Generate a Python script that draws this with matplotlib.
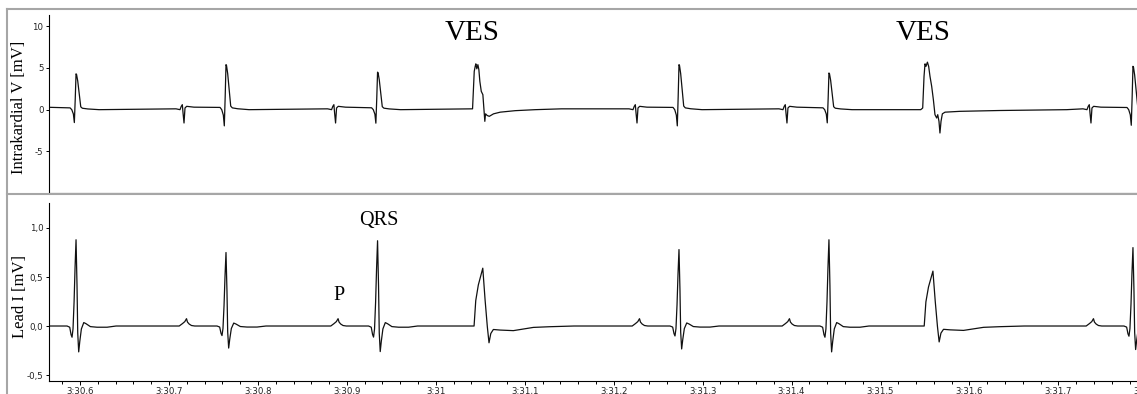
# -*- coding: utf-8 -*-
"""
Intracardiac channel and surface lead I around two ventricular
extrasystoles (VES), time axis in m:ss,d
"""

import numpy as np
import matplotlib.pyplot as plt
from matplotlib.ticker import MultipleLocator, FuncFormatter
from matplotlib.lines import Line2D

# time window [s]
t_start = 210.5651
t_end = 211.8142

# sinus beats: R-peak times [s], R amplitude intracardial / lead I [mV]
sinus_t = [210.5955, 210.7641, 210.9345, 211.2734, 211.4420, 211.7838]
sinus_r_ik = [4.3, 5.4, 4.5, 5.4, 4.4, 5.2]
sinus_r_lead1 = [0.88, 0.75, 0.87, 0.78, 0.88, 0.80]

# extrasystoles: onset [s], lead I peak [mV]
ves_t = [211.0413, 211.5474]
ves_r_lead1 = [0.59, 0.56]

# intracardial: atrial deflection, relative to R [ms] / [mV]
atr_ik_ms = [-56.2, -51.7, -50.3, -49.1, -48.3, -47.2, -46.1, -44.2, -36.0]
atr_ik_mv = [0.1, 0.0, 0.4, 0.6, -0.4, -1.6, 0.2, 0.4, 0.3]

# intracardial: ventricular spike, relative to R [ms] / fraction of R
qrs_ik_ms = [-6.7, -4.8, -3.0, -1.9, -0.9, 0.0, 0.6, 1.9, 3.7, 5.3, 7.1, 13.2, 25.9]
qrs_ik_rel = [0.05, 0.0, -0.12, -0.36, 0.3, 1.0, 0.98, 0.8, 0.42, 0.08, 0.04, 0.02, 0.0]

# intracardial: the two VES complexes, relative to onset [ms] / [mV]
ves1_ik_ms = [-2.6, 0.0, 1.1, 1.9, 3.0, 3.7, 4.8, 6.0, 7.1, 8.2, 9.8, 11.6, 12.7,
              13.8, 14.6, 16.5, 18.8, 23.6, 31.1, 48.0, 70.5, 100.1]
ves1_ik_mv = [0.1, 0.1, 2.6, 4.6, 5.2, 5.5, 4.9, 5.4, 4.8, 3.4, 2.2, 1.8, 0.2,
              -1.4, -0.5, -0.7, -0.8, -0.5, -0.3, -0.12, 0.0, 0.1]
ves2_ik_ms = [-2.2, 0.0, 1.5, 2.6, 3.7, 5.3, 6.7, 8.2, 10.1, 12.0, 13.8, 15.7,
              16.9, 18.3, 19.4, 20.6, 22.1, 25.1, 41.9, 86.9, 161.9]
ves2_ik_mv = [0.0, 0.2, 4.0, 5.5, 5.2, 5.7, 5.2, 4.0, 2.8, 1.2, -0.6, -1.0,
              -0.6, -1.4, -2.8, -1.4, -0.5, -0.3, -0.2, -0.1, 0.0]

# lead I: P wave relative to R [ms] / [mV]
p_lead1_ms = [-52.6, -48.9, -46.3, -44.4, -43.3, -41.4, -38.8, -35.1]
p_lead1_mv = [0.0, 0.025, 0.045, 0.075, 0.04, 0.02, 0.005, 0.0]

# lead I: QRS relative to R [ms] / fraction of R
qrs_lead1_ms = [-10.1, -7.1, -5.6, -4.5, -3.4, -2.2, -1.1, 0.0, 1.1, 1.9, 3.0,
                4.2, 6.0, 8.7, 11.2, 16.1, 23.6, 34.9, 45.0]
qrs_lead1_rel = [0.0, -0.014, -0.10, -0.13, -0.034, 0.28, 0.68, 1.0, 0.47, -0.08,
                 -0.30, -0.18, -0.034, 0.04, 0.027, -0.007, -0.014, -0.014, 0.0]

# lead I: VES complex relative to onset [ms] / fraction of peak
ves_lead1_ms = [0.0, 1.7, 3.6, 6.5, 11.5, 14.1, 16.6, 18.5, 20.5, 23.4, 30.9,
                45.9, 68.4, 87.1, 114.1]
ves_lead1_rel = [0.0, 0.0, 0.44, 0.71, 1.0, 0.45, -0.01, -0.29, -0.13, -0.06,
                 -0.07, -0.08, -0.024, -0.012, 0.0]


def place(t0, ms, vals, scale=1.0):
    return t0 + np.asarray(ms) / 1000.0, np.asarray(vals) * scale


def assemble(pieces, v_first, v_last):
    t = np.concatenate([[t_start - 0.05]] + [p[0] for p in pieces] + [[t_end + 0.05]])
    v = np.concatenate([[v_first]] + [p[1] for p in pieces] + [[v_last]])
    idx = np.argsort(t, kind='stable')
    return t[idx], v[idx]


#%% build both traces
pcs = []
for t0, r in zip(sinus_t, sinus_r_ik):
    pcs.append(place(t0, atr_ik_ms, atr_ik_mv))
    pcs.append(place(t0, qrs_ik_ms, qrs_ik_rel, r))
pcs.append(place(ves_t[0], ves1_ik_ms, ves1_ik_mv))
pcs.append(place(ves_t[1], ves2_ik_ms, ves2_ik_mv))
t_ik, v_ik = assemble(pcs, 0.1, 0.0)

pcs = []
for t0, r in zip(sinus_t, sinus_r_lead1):
    pcs.append(place(t0, p_lead1_ms, p_lead1_mv))
    pcs.append(place(t0, qrs_lead1_ms, qrs_lead1_rel, r))
for t0, r in zip(ves_t, ves_r_lead1):
    pcs.append(place(t0, ves_lead1_ms, ves_lead1_rel, r))
t_l1, v_l1 = assemble(pcs, 0.0, 0.0)


#%% formatters
def fmt_time(x, pos):
    m = int(x // 60)
    s = round(x - 60 * m, 1)
    if abs(s - round(s)) < 1e-6:
        return '%d:%02d' % (m, int(round(s)))
    return ('%d:%04.1f' % (m, s)).replace('.', ',')


def fmt_comma(y, pos):
    return ('%.1f' % y).replace('.', ',')


W, H = 1137, 394
fig = plt.figure(figsize=(W / 100, H / 100), dpi=100)
fig.patch.set_facecolor('white')

# axes in pixel units, right end runs past the figure edge
x0, x1 = 49, 1160
ax1 = fig.add_axes([x0 / W, (H - 193) / H, (x1 - x0) / W, 178 / H])
ax2 = fig.add_axes([x0 / W, (H - 381) / H, (x1 - x0) / W, 178 / H])

ax1.plot(t_ik, v_ik, color='#111111', lw=0.9)
ax2.plot(t_l1, v_l1, color='#111111', lw=0.9)

ax1.set_ylim(-10, 11.36)
ax2.set_ylim(-0.561, 1.255)
for ax in [ax1, ax2]:
    ax.set_xlim(t_start, t_end)
    ax.spines['top'].set_visible(False)
    ax.spines['right'].set_visible(False)
    for sp in ['left', 'bottom']:
        ax.spines[sp].set_linewidth(0.8)
    ax.tick_params(axis='both', which='both', direction='out', width=0.7,
                   length=2.5, pad=1.5, labelsize=6.2, labelcolor='#222222')
    ax.xaxis.set_major_locator(MultipleLocator(0.1))
    ax.xaxis.set_minor_locator(MultipleLocator(0.02))

ax1.set_yticks([-5, 0, 5, 10])
ax1.yaxis.set_major_formatter(FuncFormatter(lambda y, p: '%d' % y))
ax1.tick_params(axis='x', which='both', bottom=False, labelbottom=False)

ax2.set_yticks([-0.5, 0.0, 0.5, 1.0])
ax2.yaxis.set_major_formatter(FuncFormatter(fmt_comma))
ax2.xaxis.set_major_formatter(FuncFormatter(fmt_time))
ax2.tick_params(axis='x', which='major', length=3)

serif = 'Liberation Serif'
fig.text(19.5 / W, (H - 107.5) / H, 'Intrakardial V [mV]', rotation=90,
         ha='center', va='center', fontsize=12, family=serif)
fig.text(19.5 / W, (H - 296) / H, 'Lead I [mV]', rotation=90,
         ha='center', va='center', fontsize=12, family=serif)

# annotations
for t0 in ves_t:
    ax1.text(t0, 8.4, 'VES', ha='center', va='baseline', fontsize=21, family=serif)
ax2.text(210.9361, 1.03, 'QRS', ha='center', va='baseline', fontsize=14.5, family=serif)
ax2.text(210.8912, 0.265, 'P', ha='center', va='baseline', fontsize=14.5, family=serif)

# grey panel frame
frame = dict(color='#a6a6a6', lw=1.5, transform=fig.transFigure)
fig.add_artist(Line2D([6.5 / W, 6.5 / W], [0, (H - 9) / H], **frame))
fig.add_artist(Line2D([6.5 / W, 1], [(H - 9) / H, (H - 9) / H], **frame))
fig.add_artist(Line2D([6.5 / W, 1], [(H - 193.8) / H, (H - 193.8) / H], **frame))

plt.savefig('out.png', dpi=100)
